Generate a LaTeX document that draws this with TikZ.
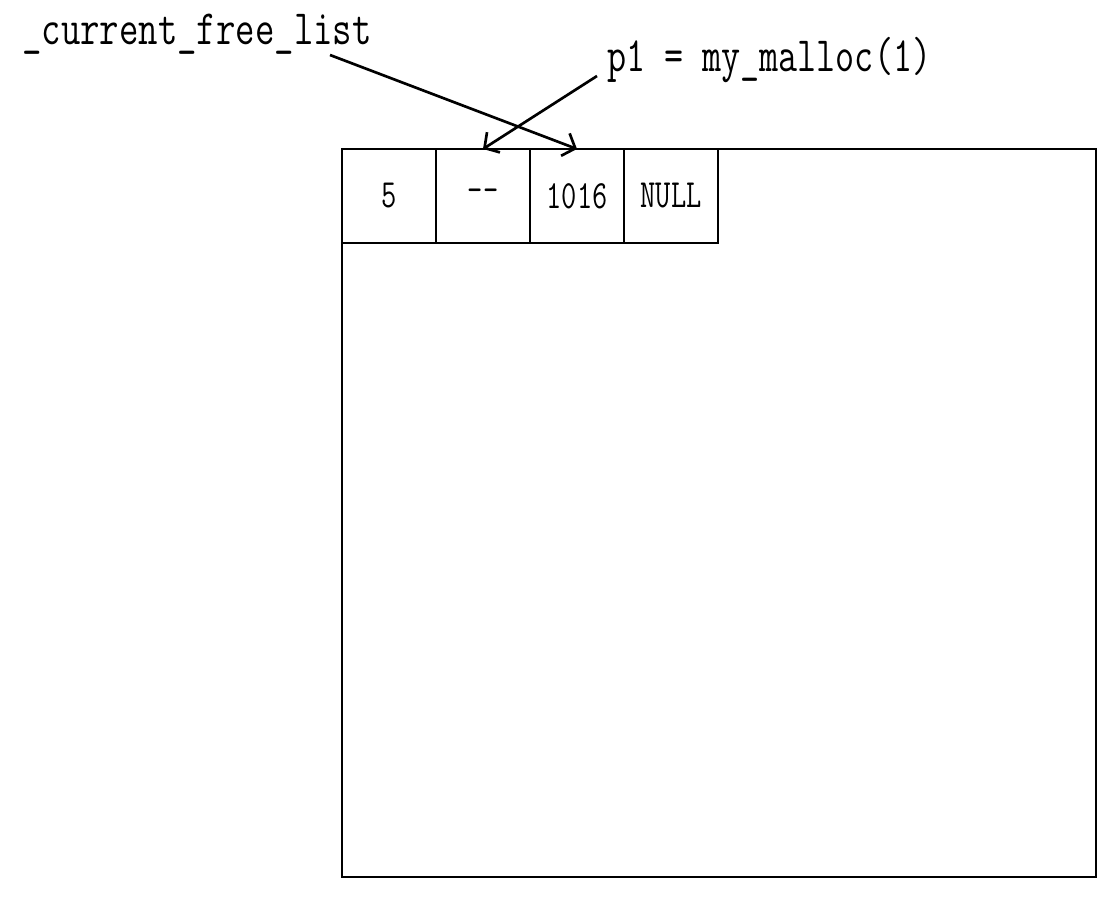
\documentclass[tikz,border=0pt]{standalone}
\usepackage{graphicx}
\usepackage{tikz}
\usetikzlibrary{arrows.meta}
\usetikzlibrary{positioning}

\begin{document}
\begin{tikzpicture}
          [x=0.75pt, y=-0.75pt,
           cell/.style={draw, line width=0.8pt, outer sep=0pt, inner sep=0pt,
                        minimum width=70.5pt, minimum height=70.5pt,
                        font=\ttfamily\fontsize{30}{30}\selectfont},
           label/.style={inner sep=0pt, font=\ttfamily\fontsize{37}{37}\selectfont},
           pointer/.style={-{Straight Barb[length=8pt,width=18pt,line width=2pt]}, line width=2pt}]
          \useasboundingbox (0,0) rectangle (1098,905);

          \node (heap) [draw, line width=0.8pt, outer sep=0pt,
                        minimum width=565.5pt, minimum height=546pt,
                        anchor=north west] at (342,149) {};
          \node (c1) [cell, anchor=north west] at (342,149) {\scalebox{0.74}[1]{5}};
          \node (c2) [cell, right = 0pt of c1] {\scalebox{0.74}[1]{--}};
          \node (c3) [cell, right = 0pt of c2] {\scalebox{0.74}[1]{1016}};
          \node (c4) [cell, right = 0pt of c3] {\scalebox{0.74}[1]{NULL}};

          \node (freelist) [label, anchor=base west] at (22,45) {\scalebox{0.764}[1]{\_current\_free\_list}};
          \node (malloccall) [label, anchor=base west] at (607,72) {\scalebox{0.75}[1]{p1 = my\_malloc(1)}};
          \coordinate (listtail) at (330,55);
          \coordinate (calltail) at (597,76);

          \draw[pointer] (listtail) -- (c3.north);
          \draw[pointer] (calltail) -- (c2.north);

        \end{tikzpicture}
\end{document}
